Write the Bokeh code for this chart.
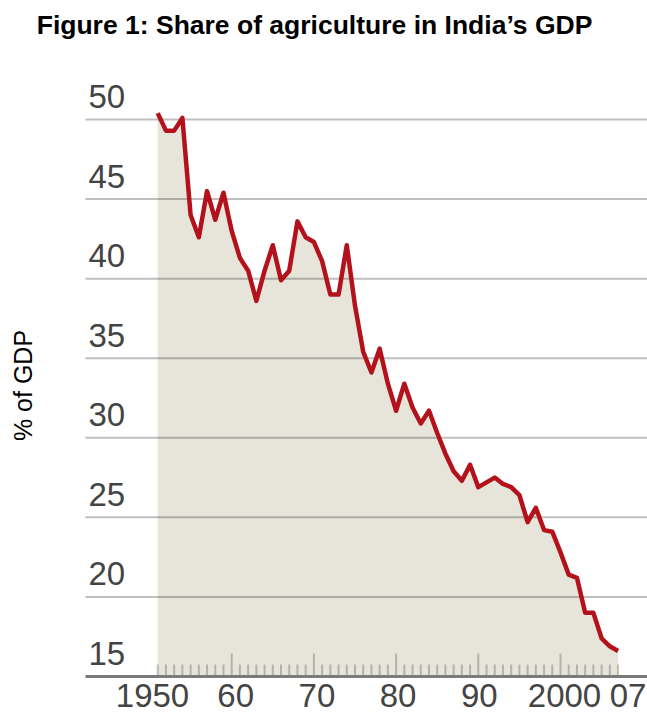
import numpy as np
from bokeh.plotting import figure
from bokeh.models import Range1d
from bokeh.core.properties import value
from bokeh.embed import file_html
from bokeh.resources import INLINE

# ---------------- data ----------------
years = list(range(1951, 2008))
agri_share = [50.4, 49.3, 49.3, 50.1, 44.0, 42.6, 45.5, 43.7, 45.4, 43.0,
              41.3, 40.5, 38.6, 40.5, 42.1, 39.9, 40.5, 43.6, 42.6, 42.3,
              41.1, 39.0, 39.0, 42.1, 38.3, 35.4, 34.1, 35.6, 33.4, 31.7,
              33.4, 31.9, 30.9, 31.7, 30.3, 29.0, 27.9, 27.3, 28.3, 26.9,
              27.2, 27.5, 27.1, 26.9, 26.4, 24.7, 25.6, 24.2, 24.1, 22.8,
              21.4, 21.2, 19.0, 19.0, 17.4, 16.9, 16.6]
y_ticks = [15, 20, 25, 30, 35, 40, 45, 50]
y_tick_labels = ["15", "20", "25", "30", "35", "40", "45", "50"]
x_label_years = [1950, 1960, 1970, 1980, 1990, 2000, 2007]
x_tick_labels = ["1950", "60", "70", "80", "90", "2000", "07"]
decade_years = [1960, 1970, 1980, 1990, 2000]

title_text = "Figure 1: Share of agriculture in India\u2019s GDP"
y_axis_text = "% of GDP"

# ---------------- layout (pixels) ----------------
W, H = 647, 716
PX_PER_YEAR = 8.22
X_1950 = 149          # pixel column of 1950
PX_PER_UNIT = 15.914
Y_BASE = 676          # pixel row of the 15 % baseline
BASE_VAL = 15
GRID_LEFT_PX = 85     # where gridlines / tick labels start
NUM_SIZE = 33
TITLE_SIZE = 26.5
SHIFT = 0.38          # baseline correction for the text renderer (em)
X_LABEL_NUDGE = [3, 4, 3, 2, 1, 4, 10]   # small horizontal label nudges (px)


def xd(px):
    return 1950 + (px - X_1950) / PX_PER_YEAR


def yd(py):
    return BASE_VAL + (Y_BASE - py) / PX_PER_UNIT


NUM_FONT = value("Liberation Sans")
TXT_FONT = value("Liberation Sans")
FILL = "#e7e4da"
RED = "#b3121c"
LABEL_GREY = "#444444"

p = figure(width=W, height=H, output_backend="svg", toolbar_location=None,
           x_range=Range1d(xd(0), xd(W)), y_range=Range1d(yd(H), yd(0)),
           x_axis_type=None, y_axis_type=None,
           min_border_left=0, min_border_right=0, min_border_top=0,
           min_border_bottom=0)
p.outline_line_color = None
p.background_fill_color = "white"
p.border_fill_color = "white"

x_grid0 = xd(GRID_LEFT_PX)
x_grid1 = xd(W)

# area fill
p.varea(x=years, y1=BASE_VAL, y2=agri_share, fill_color=FILL)

# year ticks (inside, rising from the baseline)
minor_years = [y for y in years if y not in decade_years]
p.segment(x0=minor_years, y0=[BASE_VAL] * len(minor_years), x1=minor_years,
          y1=[BASE_VAL + 12 / PX_PER_UNIT] * len(minor_years),
          line_color="black", line_alpha=0.22, line_width=2)
p.segment(x0=decade_years, y0=[BASE_VAL] * len(decade_years), x1=decade_years,
          y1=[BASE_VAL + 23 / PX_PER_UNIT] * len(decade_years),
          line_color="black", line_alpha=0.22, line_width=2)

# horizontal gridlines
grid_vals = y_ticks[1:]
p.segment(x0=[x_grid0] * len(grid_vals), y0=grid_vals,
          x1=[x_grid1] * len(grid_vals), y1=grid_vals,
          line_color="black", line_alpha=0.25, line_width=2)

# baseline axis
p.segment(x0=[x_grid0], y0=[BASE_VAL], x1=[x_grid1], y1=[BASE_VAL],
          line_color="#7a7a7a", line_width=3)

# the series line
p.line(years, agri_share, line_color=RED, line_width=4.5, line_join="round")

# y tick labels above the gridlines
y_lab_gap = 10.5 + SHIFT * NUM_SIZE
p.text(x=[x_grid0] * len(y_ticks), y=[v + y_lab_gap / PX_PER_UNIT for v in y_ticks],
       text=y_tick_labels, x_offset=3,
       text_font=NUM_FONT, text_font_size=f"{NUM_SIZE}px", text_color=LABEL_GREY,
       text_align="left", text_baseline="alphabetic")

# x tick labels
p.text(x=x_label_years, y=[yd(708 - SHIFT * NUM_SIZE)] * len(x_label_years),
       text=x_tick_labels, x_offset=X_LABEL_NUDGE, text_font=NUM_FONT,
       text_font_size=f"{NUM_SIZE}px", text_color=LABEL_GREY,
       text_align="center", text_baseline="alphabetic")

# title
p.text(x=[xd(314)], y=[yd(34.5 - SHIFT * TITLE_SIZE)], text=[title_text],
       text_font=TXT_FONT, text_font_style="bold",
       text_font_size=f"{TITLE_SIZE}px", text_color="black",
       text_align="center", text_baseline="alphabetic")

# y axis title
p.text(x=[xd(22)], y=[yd(385)], text=[y_axis_text], text_font=TXT_FONT,
       text_font_size="25px", text_color="black", angle=np.pi / 2,
       text_align="center", text_baseline="middle")

open("out.html", "w").write(file_html(p, INLINE))
